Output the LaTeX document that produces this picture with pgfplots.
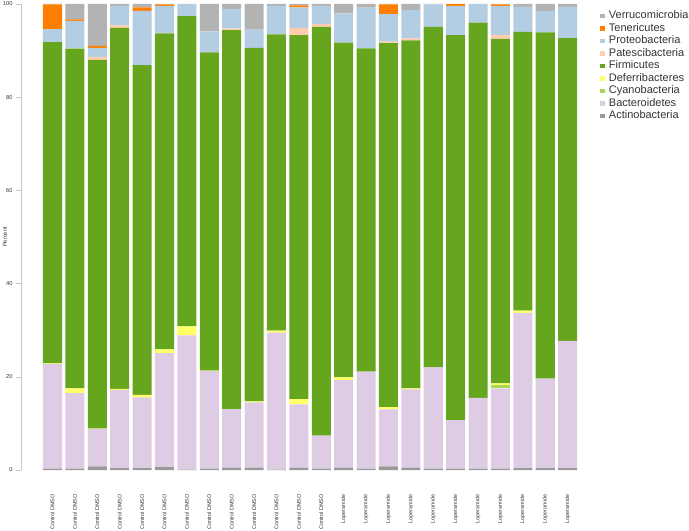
\documentclass[border=0pt]{standalone}
\usepackage{pgfplots}
\pgfplotsset{compat=1.18}
\usepackage{pgfplotstable}
\usepackage{fontspec}
\setmainfont{Liberation Sans}

\definecolor{cVer}{HTML}{B3B3B3}
\definecolor{cTen}{HTML}{FF7F00}
\definecolor{cPro}{HTML}{B3CDE3}
\definecolor{cPat}{HTML}{FDCDAC}
\definecolor{cFir}{HTML}{66A61E}
\definecolor{cDef}{HTML}{FFFF66}
\definecolor{cCya}{HTML}{A6D854}
\definecolor{cBac}{HTML}{DECBE4}
\definecolor{cAct}{HTML}{999999}

\pgfplotstableread{
x Act Bac Cya Def Fir Pat Pro Ten Ver
0 0.3 22.4 0 0.2 68.9 0 2.8 5.3 0.1
1 0.3 16.2 0 1.0 72.9 0.1 5.9 0.3 3.3
2 0.8 8.0 0 0.1 79.1 0.6 2.0 0.4 9.0
3 0.4 16.8 0 0.2 77.5 0.5 4.2 0 0.4
4 0.4 15.2 0 0.5 70.8 0 11.6 0.8 0.7
5 0.6 24.5 0 0.8 67.8 0.1 5.8 0.3 0.1
6 0.1 28.8 0 1.9 66.6 0 2.6 0 0
7 0.3 20.9 0 0.1 68.3 0 4.5 0 5.9
8 0.5 12.5 0 0 81.4 0.3 4.2 0 1.1
9 0.5 14.0 0 0.2 75.9 0 3.9 0 5.5
10 0.1 29.4 0 0.4 63.6 0 6.1 0 0.4
11 0.5 13.6 0 1.1 78.1 1.6 4.4 0.4 0.3
12 0.3 7.1 0 0 87.7 0.6 3.9 0 0.4
13 0.5 18.8 0 0.6 71.8 0 6.3 0 2.0
14 0.3 20.8 0 0 69.4 0 8.7 0 0.8
15 0.8 12.2 0 0.5 78.1 0.3 5.9 2.1 0.1
16 0.5 16.8 0 0.2 74.7 0.4 6.1 0 1.3
17 0.3 21.7 0 0 73.1 0 4.8 0 0.1
18 0.3 10.4 0 0 82.6 0 6.3 0.4 0
19 0.3 15.2 0 0 80.5 0 4.0 0 0
20 0.3 17.2 0.7 0.4 73.9 0.8 6.3 0.3 0.1
21 0.4 33.3 0 0.5 59.8 0 5.4 0 0.6
22 0.4 19.2 0 0 74.3 0 4.6 0 1.5
23 0.4 27.3 0 0 65.0 0 6.7 0 0.6
}\data

\begin{document}
\begin{tikzpicture}
\begin{axis}[
  at={(0,0)}, anchor=south west,
  scale only axis, width=578bp, height=466bp,
  ybar stacked, bar width=0.85,
  xmin=-1.406, xmax=24.4,
  ymin=0, ymax=100,
  axis lines=left,
  axis line style={-, draw=black!22},
  x axis line style={draw=none},
  xtick={0,...,23},
  xticklabels={Control DMSO,Control DMSO,Control DMSO,Control DMSO,Control DMSO,Control DMSO,Control DMSO,Control DMSO,Control DMSO,Control DMSO,Control DMSO,Control DMSO,Control DMSO,Loperamide,Loperamide,Loperamide,Loperamide,Loperamide,Loperamide,Loperamide,Loperamide,Loperamide,Loperamide,Loperamide},
  xtick style={draw=none},
  ytick={0,20,40,60,80,100},
  ytick style={draw=black!22},
  tick align=outside, major tick length=5bp,
  /pgf/number format/assume math mode=true,
  tick label style={font=\fontsize{5.7bp}{6bp}\selectfont, text=black!80},
  xticklabel style={yshift=-16bp, rotate=90, anchor=east, font=\fontsize{5.4bp}{6bp}\selectfont},
  ylabel={Percent},
  every axis y label/.style={at={(axis description cs:-0.0277,0.5)}, rotate=90, anchor=center, font=\fontsize{5.7bp}{6bp}\selectfont, text=black!80},
  reverse legend,
  legend image code/.code={\path (0bp,0bp) -- (7.5bp,0bp);\fill[#1] (0bp,-2bp) rectangle (4.5bp,2.5bp);},
  legend style={at={(axis description cs:1.0017,0.9877)}, anchor=north west, draw=none, fill=none, inner sep=0pt, row sep=0pt,
    nodes={font=\fontsize{11bp}{12bp}\selectfont, text=black!80, text height=7.8bp, text depth=2.2bp, inner sep=1.25bp}},
  legend cell align=left,
]
\addplot[fill=cAct, draw=none] table[x=x, y=Act] {\data};
\addplot[fill=cBac, draw=none] table[x=x, y=Bac] {\data};
\addplot[fill=cCya, draw=none] table[x=x, y=Cya] {\data};
\addplot[fill=cDef, draw=none] table[x=x, y=Def] {\data};
\addplot[fill=cFir, draw=none] table[x=x, y=Fir] {\data};
\addplot[fill=cPat, draw=none] table[x=x, y=Pat] {\data};
\addplot[fill=cPro, draw=none] table[x=x, y=Pro] {\data};
\addplot[fill=cTen, draw=none] table[x=x, y=Ten] {\data};
\addplot[fill=cVer, draw=none] table[x=x, y=Ver] {\data};
\legend{Actinobacteria,Bacteroidetes,Cyanobacteria,Deferribacteres,Firmicutes,Patescibacteria,Proteobacteria,Tenericutes,Verrucomicrobia}
\end{axis}
\pgfresetboundingbox
\path[use as bounding box] (-21bp,-61bp) rectangle (668bp,470bp);
\end{tikzpicture}
\end{document}
